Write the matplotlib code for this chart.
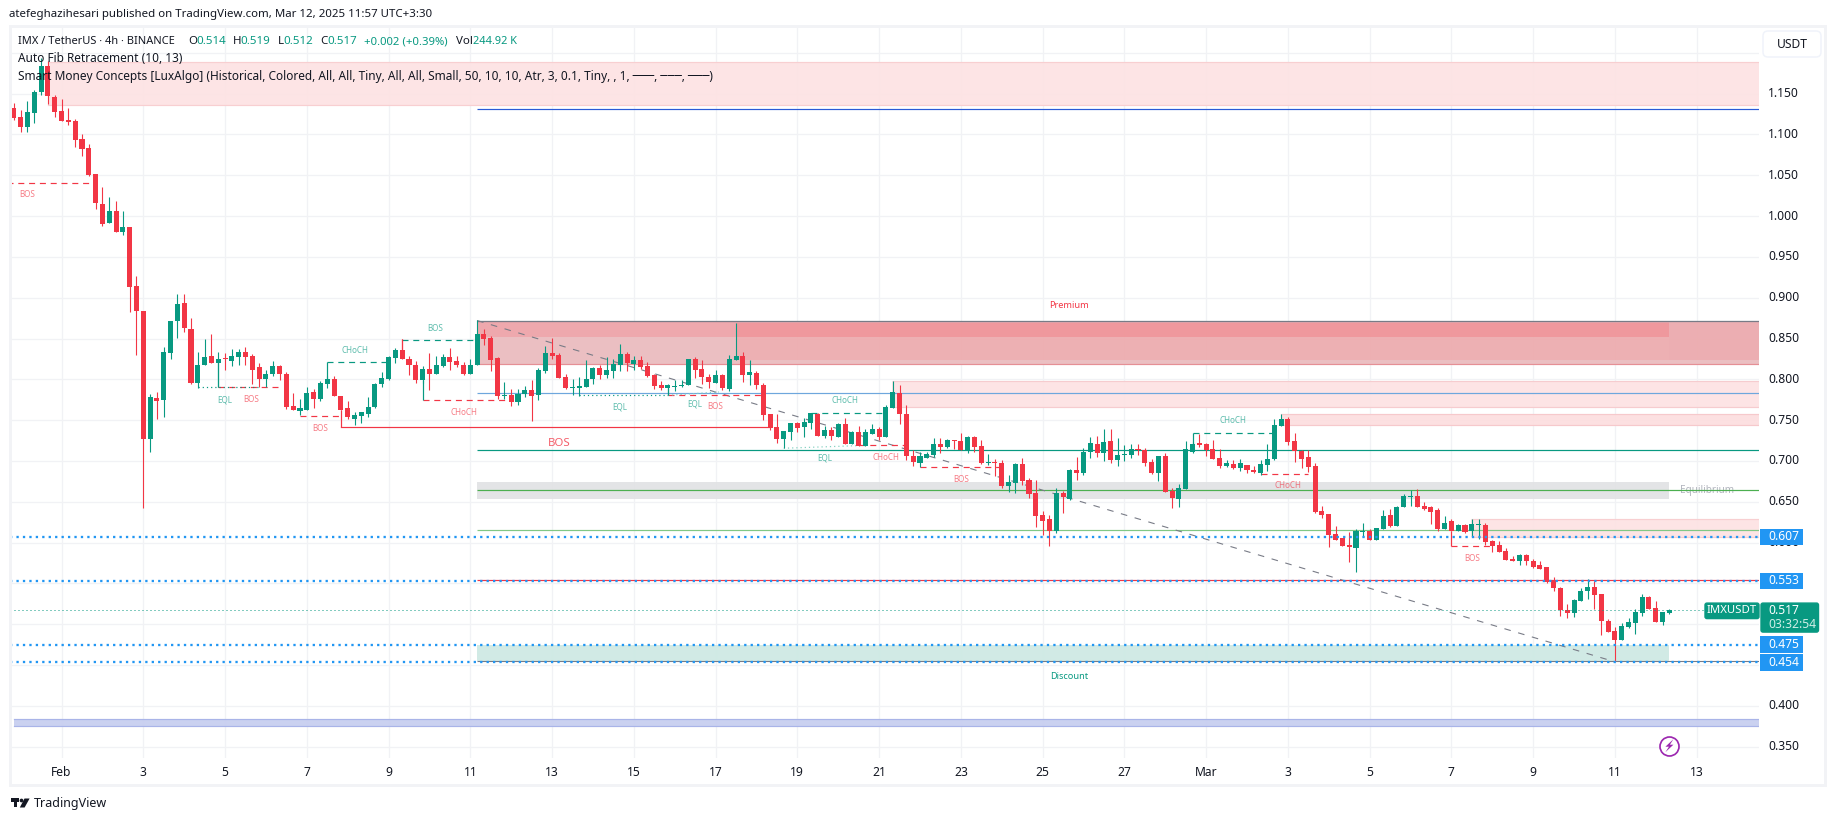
import matplotlib
matplotlib.use("Agg")
import matplotlib.pyplot as plt
from matplotlib.patches import Rectangle, FancyBboxPatch, Polygon

# ---------- data (4h candles) ----------
opens = [
1.132,1.121,1.109,1.126,1.152,1.184,1.146,1.129,1.118,1.116,
1.094,1.083,1.051,1.015,.991,1.006,.980,.987,.914,.884,
.727,.777,.775,.832,.871,.893,.862,.795,.817,.828,
.820,.826,.822,.827,.834,.828,.815,.800,.806,.816,
.806,.767,.761,.763,.784,.776,.794,.801,.780,.765,
.752,.755,.757,.766,.794,.801,.826,.836,.825,.818,
.799,.813,.806,.816,.827,.822,.818,.807,.817,.856,
.851,.826,.780,.781,.772,.782,.787,.781,.810,.832,
.830,.803,.789,.789,.791,.800,.814,.805,.810,.818,
.831,.819,.824,.816,.805,.793,.789,.791,.792,.793,
.825,.813,.803,.796,.805,.788,.824,.829,.805,.808,
.793,.758,.742,.727,.736,.747,.742,.747,.758,.731,
.738,.729,.745,.721,.736,.718,.733,.739,.729,.765,
.783,.758,.706,.698,.704,.707,.721,.717,.726,.725,
.713,.729,.718,.698,.699,.698,.669,.673,.696,.677,
.661,.634,.629,.614,.661,.654,.689,.685,.711,.721,
.710,.725,.701,.707,.707,.715,.713,.699,.685,.706,
.663,.654,.666,.711,.722,.721,.715,.704,.694,.696,
.691,.695,.689,.685,.695,.702,.743,.751,.724,.712,
.705,.694,.639,.635,.611,.606,.597,.594,.613,.614,
.603,.617,.634,.620,.644,.656,.657,.645,.644,.640,
.617,.626,.614,.621,.614,.622,.622,.602,.597,.590,
.580,.578,.585,.578,.573,.570,.553,.544,.518,.514,
.529,.541,.546,.537,.504,.492,.481,.497,.502,.514,
.533,.520,.503,.514]
highs = [
1.138,1.130,1.141,1.154,1.194,1.190,1.148,1.143,1.132,1.119,
1.100,1.088,1.052,1.036,1.023,1.019,1.006,.987,.926,.884,
.782,.785,.840,.872,.904,.904,.875,.833,.850,.856,
.834,.832,.837,.837,.840,.831,.820,.812,.823,.818,
.809,.783,.776,.791,.788,.798,.804,.804,.780,.773,
.760,.760,.778,.796,.809,.829,.838,.849,.829,.822,
.816,.832,.829,.831,.838,.829,.821,.825,.873,.862,
.853,.827,.797,.788,.788,.792,.799,.814,.841,.851,
.832,.807,.800,.803,.824,.815,.818,.827,.825,.843,
.833,.829,.829,.821,.807,.798,.794,.799,.799,.825,
.827,.824,.807,.811,.807,.830,.869,.833,.824,.810,
.796,.758,.758,.737,.747,.748,.753,.759,.759,.743,
.742,.747,.753,.737,.743,.739,.745,.742,.769,.798,
.793,.769,.714,.711,.711,.728,.728,.727,.726,.734,
.731,.731,.726,.709,.702,.701,.683,.698,.704,.679,
.677,.639,.634,.667,.663,.690,.705,.716,.729,.731,
.739,.739,.728,.720,.721,.721,.716,.702,.706,.710,
.667,.672,.725,.723,.733,.722,.726,.715,.701,.701,
.702,.695,.694,.701,.721,.751,.758,.754,.734,.713,
.713,.698,.645,.635,.620,.606,.613,.617,.624,.617,
.618,.640,.641,.645,.660,.665,.666,.650,.645,.643,
.632,.629,.623,.623,.629,.629,.624,.603,.602,.594,
.584,.586,.586,.580,.578,.570,.558,.546,.525,.531,
.544,.556,.553,.537,.506,.497,.501,.508,.519,.537,
.535,.528,.515,.519]
lows = [
1.118,1.103,1.103,1.114,1.148,1.137,1.121,1.116,1.112,1.084,
1.073,1.049,1.008,.988,.991,.981,.977,.882,.830,.643,
.711,.751,.754,.825,.851,.858,.794,.789,.817,.820,
.790,.811,.816,.817,.818,.794,.790,.791,.804,.799,
.764,.762,.756,.763,.765,.773,.789,.779,.763,.751,
.744,.747,.754,.765,.791,.799,.820,.825,.805,.796,
.796,.787,.806,.815,.812,.815,.805,.807,.817,.842,
.810,.776,.776,.767,.769,.778,.749,.775,.808,.825,
.802,.788,.781,.780,.791,.794,.800,.802,.802,.810,
.810,.811,.813,.803,.788,.787,.781,.786,.791,.793,
.802,.794,.789,.796,.787,.786,.824,.797,.793,.788,
.750,.738,.722,.716,.726,.736,.729,.739,.731,.728,
.726,.729,.721,.721,.718,.718,.733,.726,.729,.765,
.745,.701,.694,.693,.704,.705,.710,.716,.715,.713,
.710,.711,.696,.695,.682,.667,.662,.661,.671,.655,
.619,.609,.596,.612,.636,.652,.677,.683,.704,.705,
.700,.698,.694,.700,.704,.707,.694,.684,.676,.662,
.642,.644,.666,.710,.717,.706,.702,.691,.693,.690,
.688,.685,.685,.683,.688,.701,.743,.720,.699,.691,
.687,.636,.630,.595,.603,.596,.576,.564,.607,.603,
.603,.617,.619,.620,.644,.645,.644,.640,.623,.614,
.617,.614,.614,.612,.607,.605,.597,.589,.588,.579,
.577,.572,.573,.569,.568,.551,.541,.510,.508,.509,
.529,.531,.519,.487,.491,.455,.481,.496,.488,.510,
.519,.503,.499,.512]
closes = [
1.120,1.109,1.127,1.152,1.184,1.147,1.127,1.117,1.115,1.093,
1.082,1.050,1.016,.990,1.006,.981,.987,.913,.884,.727,
.778,.773,.833,.872,.892,.863,.796,.818,.827,.820,
.825,.825,.828,.834,.827,.812,.800,.807,.816,.806,
.766,.762,.765,.783,.776,.796,.801,.779,.763,.754,
.756,.760,.766,.794,.802,.827,.836,.825,.817,.799,
.813,.806,.817,.827,.821,.817,.807,.818,.856,.849,
.824,.780,.781,.772,.782,.787,.780,.811,.832,.829,
.802,.789,.791,.792,.800,.814,.805,.811,.819,.831,
.820,.824,.815,.804,.792,.789,.793,.792,.793,.825,
.811,.803,.797,.805,.789,.825,.829,.805,.809,.793,
.756,.740,.727,.737,.747,.740,.748,.759,.731,.738,
.731,.745,.721,.736,.718,.736,.739,.729,.766,.785,
.758,.706,.699,.706,.709,.721,.717,.726,.725,.713,
.729,.717,.698,.699,.698,.669,.674,.696,.676,.660,
.633,.627,.614,.661,.656,.689,.685,.711,.722,.710,
.723,.701,.707,.709,.715,.713,.698,.685,.706,.662,
.655,.667,.715,.721,.720,.713,.702,.694,.698,.691,
.698,.689,.687,.696,.702,.744,.751,.723,.712,.702,
.693,.638,.634,.609,.603,.596,.595,.614,.614,.603,
.618,.633,.620,.644,.657,.657,.644,.641,.638,.617,
.624,.614,.622,.613,.623,.623,.601,.596,.589,.579,
.578,.585,.577,.570,.568,.552,.544,.517,.514,.530,
.541,.546,.536,.504,.491,.481,.498,.503,.515,.534,
.519,.503,.515,.517]

tick_labels = ["Feb"]+[str(d) for d in range(3,29,2)]+["Mar"]+[str(d) for d in (3,5,7,9,11,13)]
tick_bars = [7+12*k for k in range(len(tick_labels))]
price_ticks = [.35,.40,.45,.50,.55,.60,.65,.70,.75,.80,.85,.90,.95,1.00,1.05,1.10,1.15]
hidden_price_labels = [.45,.50,.55]
grid_extra = [1.20]

# zones: start bar, end bar (None = right edge), low, high, fill, edge
zones = [
 (5,None,1.1364,1.1883,"#fde3e4","#f8cfd1"),
 (68,106,.8523,.8718,"#eea5aa",None),(68,106,.8184,.8523,"#ebbdc0",None),
 (106,243,.8686,.8718,"#eea5aa",None),(106,243,.8515,.8686,"#ef9499",None),
 (106,243,.8237,.8515,"#edadb0",None),(106,243,.8184,.8237,"#ebbdc0",None),
 (243,None,.8686,.8718,"#eeb0b3",None),(243,None,.8237,.8686,"#ecabaf",None),(243,None,.8184,.8237,"#ebbdc0",None),
 (129,None,.7657,.7980,"#fde3e4","#f6cccf"),
 (186,None,.7445,.7576,"#fcdfe0","#f6c9cc"),
 (68,243,.6534,.6746,"#e2e3e5",None),
 (214,None,.6073,.6290,"#fde3e4","#f8cfd1"),
 (68,243,.4549,.475,"#cfeae4",None),
 (0,None,.3757,.3835,"#c8cff0","#a9b4e8"),
]
# level lines: start bar, price, colour, width in px
levels = [
 (68,1.1307,"#2a5bd7",1.2),(68,.8718,"#787b86",1.3),(68,.8184,"#e58f95",1.2),
 (68,.7829,"#6ea7dd",1.2),(68,.7131,"#089981",1.2),(68,.664,"#4caf50",1.2),
 (68,.615,"#81c784",1.2),(68,.5538,"#f23645",1.2),(68,.4545,"#787b86",1.1),
]
fib_levels = [.607,.553,.475,.454]
last_price = .517
fib_trend_x, fib_trend_y = [68,235], [.872,.454]

RED, GREEN = "#f23645", "#089981"
# structure lines: bar0, bar1, price0, price1, colour, style
struct = [
 (-1,12,1.0406,1.0406,RED,"dash"),(30,39,.791,.791,RED,"dash"),(42,48,.7556,.7556,RED,"dash"),
 (48,111,.741,.741,RED,"solid"),(46,55,.8217,.8217,GREEN,"dash"),(57,68,.8486,.8486,GREEN,"dash"),
 (60,73,.7743,.7743,RED,"dash"),(96,110,.7804,.7804,RED,"dash"),(117,128,.7584,.7584,GREEN,"dash"),
 (124,131,.7192,.7192,RED,"dash"),(133,145,.6922,.6922,RED,"dash"),(173,185,.7339,.7339,GREEN,"dash"),
 (183,190,.6836,.6836,RED,"dash"),(211,217,.5955,.5955,RED,"dash"),
 (27,36,.790,.790,GREEN,"dot"),(83,96,.7804,.7804,GREEN,"dot"),
 (96,103.5,.7804,.7845,"#7fcfbf","dot"),(113,124,.7156,.7188,"#7fcfbf","dot"),
]
# connectors: bar, price0, price1, colour
connectors = [(48,.763,.741,RED),(46,.8217,.801,GREEN),(60,.799,.7743,GREEN),(30,.825,.791,GREEN),
              (57,.849,.836,RED),(173,.7339,.721,GREEN),(211,.614,.5955,RED),(96,.789,.7804,GREEN)]
# labels: bar, price, text, colour
labels = [
 (2,1.0266,"BOS",RED),(30.9,.7743,"EQL",GREEN),(34.9,.7755,"BOS",RED),(45,.740,"BOS",RED),
 (50,.8355,"CHoCH",GREEN),(61.9,.8625,"BOS",GREEN),(66,.7591,"CHoCH",RED),
 (88.9,.7665,"EQL",GREEN),(100,.770,"EQL",GREEN),(103,.7665,"BOS",RED),(122,.7743,"CHoCH",GREEN),
 (119,.704,"EQL",GREEN),(128,.704,"CHoCH",RED),(139,.6775,"BOS",RED),(179,.7498,"CHoCH",GREEN),
 (187,.6702,"CHoCH",RED),(214,.5808,"BOS",RED),
]

# ---------- figure ----------
W, H = 1835, 821
FONT = ["Noto Sans", "DejaVu Sans"]
plt.rcParams["font.family"] = FONT
fig = plt.figure(figsize=(W/100, H/100), dpi=100, facecolor="white")
L, R, T, B = 10, 1759, 28, 758
ax = fig.add_axes([L/W, 1-B/H, (R-L)/W, (B-T)/H])
XMIN, XMAX = -0.566, 256.15
YMIN, YMAX = .3362, 1.2303
ax.set_xlim(XMIN, XMAX); ax.set_ylim(YMIN, YMAX)
for s in ax.spines.values():
    s.set_visible(False)
ax.set_xticks([]); ax.set_yticks([])
px = 0.72

GRID = "#f1f2f5"
for t in tick_bars:
    ax.axvline(t, color=GRID, lw=1.3*px, zorder=0)
for p in price_ticks + grid_extra:
    ax.axhline(p, color=GRID, lw=1.3*px, zorder=0)

for x0, x1, lo, hi, fc, ec in zones:
    x1 = XMAX if x1 is None else x1
    ax.add_patch(Rectangle((x0-0.05, lo), x1-x0+0.05, hi-lo, fc=fc, ec="none", alpha=.96, zorder=1))
    if ec:
        ax.plot([x0, x1], [hi, hi], color=ec, lw=1.2*px, zorder=1.1)
        ax.plot([x0, x1], [lo, lo], color=ec, lw=1.2*px, zorder=1.1)

for x0, p, c, w in levels:
    ax.plot([x0, XMAX], [p, p], color=c, lw=w*px, zorder=2, solid_capstyle="butt")

ax.plot(fib_trend_x, fib_trend_y, color="#787b86", lw=1.1*px, ls=(0, (6, 7)), zorder=2.2)

styles = {"dash": (0, (5, 4)), "dot": (0, (1, 2.5)), "solid": "-"}
for x0, x1, p0, p1, c, s in struct:
    ax.plot([x0, x1], [p0, p1], color=c, lw=1.2*px, ls=styles[s], zorder=2.4)
for x, p0, p1, c in connectors:
    ax.plot([x, x], [p0, p1], color=c, lw=1.2*px, zorder=2.4, solid_capstyle="butt")

# candles
for i, (o, h, l, c) in enumerate(zip(opens, highs, lows, closes)):
    col = GREEN if c >= o else RED
    ax.plot([i, i], [l, h], color=col, lw=1.1*px, zorder=3, solid_capstyle="butt")
    ax.bar(i, max(abs(c-o), .0008), bottom=min(o, c), width=.74, color=col, linewidth=0, zorder=3.1)

for p in fib_levels:
    ax.plot([XMIN, XMAX], [p, p], color="#2196f3", lw=2.3*px, ls=(0, (1, 1.8)), zorder=3.5)
ax.plot([XMIN, XMAX], [last_price]*2, color=GREEN, lw=1*px, ls=(0, (1, 3)), zorder=3.5)

for x, p, s, c in labels:
    ax.text(x, p, s, color=c, alpha=.65, fontsize=5.8, ha="center", va="center", zorder=4)
ax.text(80, .7216, "BOS", color=RED, fontsize=8.2, ha="center", va="center", zorder=4, alpha=.8)
ax.text(154.9, .891, "Premium", color=RED, fontsize=6.6, ha="center", va="center", zorder=4)
ax.text(154.9, .4366, "Discount", color=GREEN, fontsize=6.6, ha="center", va="center", zorder=4)
ax.text(248.5, .6644, "Equilibrium", color="#b2b5be", fontsize=7.2, ha="center", va="center", zorder=1.9)

# ---------- chrome in pixel coordinates ----------
ov = fig.add_axes([0, 0, 1, 1], facecolor="none")
ov.set_xlim(0, W); ov.set_ylim(H, 0); ov.axis("off")
ov.add_patch(Rectangle((9.5, 26), 1815.5, 759.5, fc="none", ec="#f2f3f6", lw=3*px))

def py(p):
    return H - ax.transData.transform((0, p))[1]

TXT = "#131722"
ov.text(9, 14, "atefeghazihesari published on TradingView.com, Mar 12, 2025 11:57 UTC+3:30",
        fontsize=8.25, color=TXT, va="center")
for x, s, c, fs in [(18, "IMX / TetherUS · 4h · BINANCE", TXT, 7.95), (188, "O", TXT, 8.3), (196, "0.514", GREEN, 8.3),
                (233, "H", TXT, 8.3), (240, "0.519", GREEN, 8.3), (278, "L", TXT, 8.3), (283.6, "0.512", GREEN, 8.3),
                (320.4, "C", TXT, 8.3), (327.5, "0.517", GREEN, 8.3), (363.8, "+0.002 (+0.39%)", GREEN, 8.15),
                (456.3, "Vol", TXT, 8.3), (473.3, "244.92 K", GREEN, 7.9)]:
    ov.text(x, 41.5, s, fontsize=fs, color=c, va="center")
ov.text(18, 59, "Auto Fib Retracement (10, 13)", fontsize=8.55, color=TXT, va="center")
ov.text(18, 76.5, "Smart Money Concepts [LuxAlgo] (Historical, Colored, All, All, Tiny, All, All, Small, 50, 10, 10, Atr, 3, 0.1, Tiny, , 1, ───, ───, ───)",
        fontsize=8.55, color=TXT, va="center")

for p in price_ticks:
    if p not in hidden_price_labels:
        ov.text(1768, py(p), f"{p:.3f}", fontsize=8.7, color=TXT, va="center")
for t, s in zip(tick_bars, tick_labels):
    xp = ax.transData.transform((t, 0))[0]
    ov.text(xp, 772, s, fontsize=8.7, color=TXT, va="center", ha="center",
            fontweight="bold" if s in ("Feb", "Mar") else "normal")

for p in fib_levels:
    yc = py(p)
    if p == .454:
        yc += 0.5
    ov.add_patch(Rectangle((1760, yc-8.4), 43, 16.8, fc="#2196f3", ec="none", zorder=5))
    ov.text(1768, yc, f"{p:.3f}", fontsize=8.7, color="white", va="center", zorder=6, fontweight="medium")

ylp = py(last_price)
ov.add_patch(FancyBboxPatch((1761, ylp-7.3), 57.5, 29, boxstyle="round,pad=0,rounding_size=2", fc=GREEN, ec=GREEN, lw=1, zorder=5))
ov.add_patch(FancyBboxPatch((1705, ylp-7.3), 54, 15.5, boxstyle="round,pad=0,rounding_size=2", fc=GREEN, ec=GREEN, lw=1, zorder=5))
ov.text(1768, ylp+0.5, "0.517", fontsize=8.7, color="white", va="center", zorder=6, fontweight="medium")
ov.text(1768, ylp+14.5, "03:32:54", fontsize=8.7, color="#cfeee6", va="center", zorder=6)
ov.text(1732, ylp+0.5, "IMXUSDT", fontsize=8.2, color="white", va="center", ha="center", zorder=6, fontweight="medium")

ov.add_patch(FancyBboxPatch((1763, 31), 58, 26, boxstyle="round,pad=0,rounding_size=5", fc="white", ec="#f0f3fa", lw=1.5*px, zorder=5))
ov.text(1792, 44.5, "USDT", fontsize=8.7, color=TXT, va="center", ha="center", zorder=6)

# lightning badge
xc = ax.transData.transform((243, 0))[0]
yc = 745.7
ov.plot([xc], [yc], marker="o", ms=19*px, mfc="white", mec="#9c27b0", mew=1.7*px, zorder=6)
ov.add_patch(Polygon([(xc+4, yc-6.5), (xc-4, yc+1), (xc-0.5, yc+1), (xc-4, yc+6.5), (xc+4, yc-1), (xc+0.5, yc-1)],
                     fc="#9c27b0", ec="none", zorder=7))

# TradingView logo
k = "#131722"
ov.add_patch(Rectangle((10.5, 798.5), 8.5, 3.2, fc=k, ec="none"))
ov.add_patch(Rectangle((13.5, 798.5), 3.6, 9, fc=k, ec="none"))
ov.plot([20.8], [800.2], marker="o", ms=3.4*px*1.1, color=k, mew=0)
ov.add_patch(Polygon([(24.5, 798.5), (29.6, 798.5), (24.6, 807.5), (19.8, 807.5)], fc=k, ec="none"))
ov.text(34, 803, "TradingView", fontsize=9.0, color=k, va="center")

fig.savefig("out.png", dpi=100)
